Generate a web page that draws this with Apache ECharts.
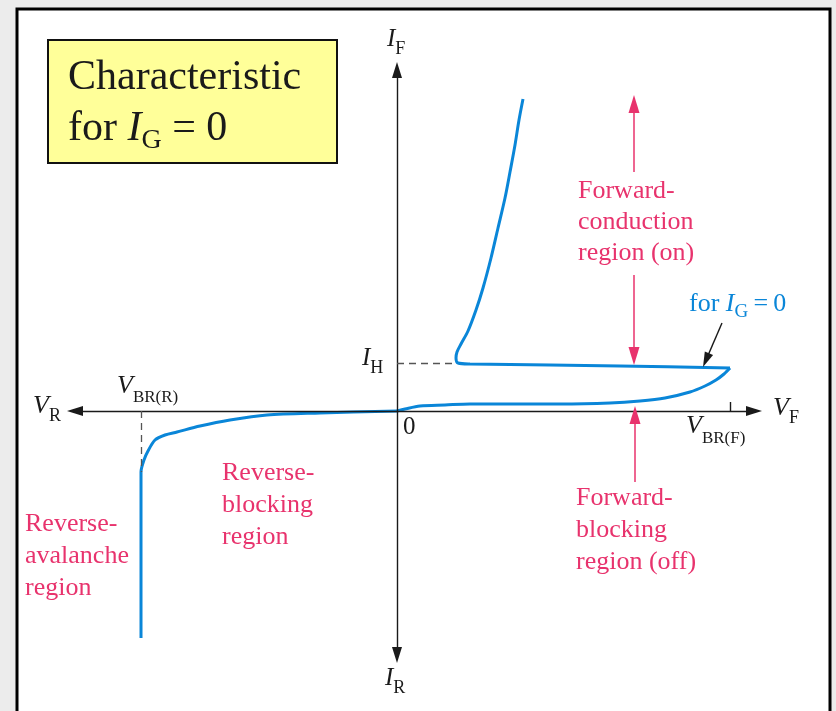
<!DOCTYPE html>
<html>
<head>
<meta charset="utf-8">
<script src="https://cdn.jsdelivr.net/npm/echarts@6/dist/echarts.min.js"></script>
<style>
  html, body { margin: 0; padding: 0; background: #ececec; }
  #main { width: 836px; height: 711px; }
</style>
</head>
<body>
<div id="main"></div>
<script>
// SCR characteristic, units: origin at 0, arbitrary scale
const reverseCurve = [[-256,-227],[-256,-61],[-253,-49],[-249,-40],[-242,-29],[-232,-24],[-220,-21],[-197,-15],[-167,-9],[-130,-4],[-77,-2],[0,0]];
const blockingCurve = [[0,0],[8,2],[23,5],[48,6],[73,7],[163,7],[213,8],[243,10],[268,13],[293,19],[308,25],[319,31],[327,37],[333,43]];
const onCurve = [[333,43],[223,45],[153,46],[73,47],[61,48],[59,53],[60,59],[64,67],[71,80],[79,101],[86,123],[94,153],[101,183],[108,213],[113,239],[118,266],[122,291],[126,312]];

const vBRF = 333;     // forward breakover voltage
const vBRR = -256;    // reverse breakdown voltage
const iH = 48;        // holding current
const vAxisEnds = [-330, 365];
const iAxisEnds = [-252, 349];

const BLUE = '#0a86d8';
const PINK = '#e8336d';
const INK = '#1a1a1a';
const SERIF = '"Liberation Serif", "Times New Roman", serif';

// measure text so subscripts can follow the main letter
const ctx = document.createElement('canvas').getContext('2d');
function textW(t, size, italic) {
  ctx.font = (italic ? 'italic ' : '') + size + 'px ' + SERIF;
  return ctx.measureText(t).width;
}

// a run of text pieces on one baseline: [text, size, italic, dy]
function run(x, base, parts, color) {
  const out = [];
  let cx = x;
  parts.forEach(p => {
    const [t, size, italic, dy] = p;
    out.push({
      type: 'text', x: cx, y: base + (dy || 0) - size * 0.34, z: 20,
      style: {
        text: t, fill: color || INK,
        font: (italic ? 'italic ' : '') + size + 'px ' + SERIF,
        verticalAlign: 'middle', align: 'left'
      }
    });
    cx += textW(t, size, italic);
  });
  return out;
}

function block(x, base, lines, lh, size, color) {
  let out = [];
  lines.forEach((l, i) => { out = out.concat(run(x, base + i * lh, [[l, size]], color)); });
  return out;
}

// line whose arrowhead tip sits on "tip"
function arrow(from, tip, size) {
  const dx = tip[0] - from[0], dy = tip[1] - from[1];
  const len = Math.sqrt(dx * dx + dy * dy);
  const back = size[1] / 2;
  const end = [tip[0] - dx / len * back, tip[1] - dy / len * back];
  return [{ coord: from, symbol: 'none' }, { coord: end, symbol: 'triangle', symbolSize: size }];
}

const texts = [].concat(
  run(68, 92, [['Characteristic', 42]]),
  run(68, 143, [['for ', 42], ['I', 42, true], ['G', 28, false, 7], [' = 0', 42]]),
  run(387, 48, [['I', 25, true], ['F', 18, false, 7]]),
  run(385, 687, [['I', 25, true], ['R', 18, false, 7]]),
  run(362, 367, [['I', 25, true], ['H', 18, false, 7]]),
  run(33, 415, [['V', 26, true], ['R', 18, false, 7]]),
  run(773, 417, [['V', 26, true], ['F', 18, false, 7]]),
  run(117, 395, [['V', 26, true], ['BR(R)', 17, false, 8]]),
  run(686, 435, [['V', 26, true], ['BR(F)', 17, false, 9]]),
  run(403, 436, [['0', 25]]),
  run(689, 313, [['for ', 26], ['I', 26, true], ['G', 19, false, 5], ['\u2009=\u20090', 26]], BLUE),
  block(578, 200, ['Forward-', 'conduction', 'region (on)'], 31, 26, PINK),
  block(576, 507, ['Forward-', 'blocking', 'region (off)'], 32, 26, PINK),
  block(222, 482, ['Reverse-', 'blocking', 'region'], 32, 26, PINK),
  block(25, 533, ['Reverse-', 'avalanche', 'region'], 32, 26, PINK)
);

const chart = echarts.init(document.getElementById('main'));
chart.setOption({
  animation: false,
  backgroundColor: '#ececec',
  grid: { left: 0, right: 0, top: 0, bottom: 0 },
  xAxis: { type: 'value', min: -397, max: 439, show: false },
  yAxis: { type: 'value', min: -300, max: 411, show: false },
  graphic: [
    { type: 'rect', z: 0, shape: { x: 17, y: 9, width: 813, height: 720 },
      style: { fill: '#fff', stroke: '#000', lineWidth: 3 } },
    { type: 'rect', z: 1, shape: { x: 48, y: 40, width: 289, height: 123 },
      style: { fill: '#ffff99', stroke: '#111', lineWidth: 2 } }
  ].concat(texts),
  series: [
    {
      name: 'axes', type: 'line', data: [], silent: true,
      markLine: {
        silent: true, animation: false, label: { show: false },
        lineStyle: { color: INK, width: 1.4, type: 'solid' },
        emphasis: { disabled: true },
        data: [
          [{ coord: [vAxisEnds[0] + 8, 0], symbol: 'triangle', symbolSize: [10, 16] }, { coord: [vAxisEnds[1] - 8, 0], symbol: 'triangle', symbolSize: [10, 16] }],
          [{ coord: [0, iAxisEnds[0] + 8], symbol: 'triangle', symbolSize: [10, 16] }, { coord: [0, iAxisEnds[1] - 8], symbol: 'triangle', symbolSize: [10, 16] }],
          [{ coord: [vBRF, 0], symbol: 'none' }, { coord: [vBRF, 9], symbol: 'none' }],
          arrow([325, 88], [306, 44], [9, 15])
        ]
      }
    },
    {
      name: 'guides', type: 'line', data: [], silent: true,
      markLine: {
        silent: true, animation: false, label: { show: false }, symbol: 'none',
        lineStyle: { color: '#555', width: 1.3, type: [7, 5] },
        emphasis: { disabled: true },
        data: [
          [{ coord: [vBRR, 0] }, { coord: [vBRR, -61] }],
          [{ coord: [0, iH] }, { coord: [58, iH] }]
        ]
      }
    },
    {
      name: 'regions', type: 'line', data: [], silent: true,
      markLine: {
        silent: true, animation: false, label: { show: false },
        lineStyle: { color: PINK, width: 1.5, type: 'solid' },
        emphasis: { disabled: true },
        data: [
          arrow([237, 239], [237, 316], [11, 18]),
          arrow([237, 136], [237, 46], [11, 18]),
          arrow([238, -71], [238, 5], [11, 18])
        ]
      }
    },
    { name: 'reverse', type: 'line', data: reverseCurve, smooth: 0.3, symbol: 'none', silent: true,
      lineStyle: { color: BLUE, width: 3 } },
    { name: 'blocking', type: 'line', data: blockingCurve, smooth: 0.3, symbol: 'none', silent: true,
      lineStyle: { color: BLUE, width: 3 } },
    { name: 'on', type: 'line', data: onCurve, smooth: 0.3, symbol: 'none', silent: true,
      lineStyle: { color: BLUE, width: 3 } }
  ]
});
</script>
</body>
</html>
